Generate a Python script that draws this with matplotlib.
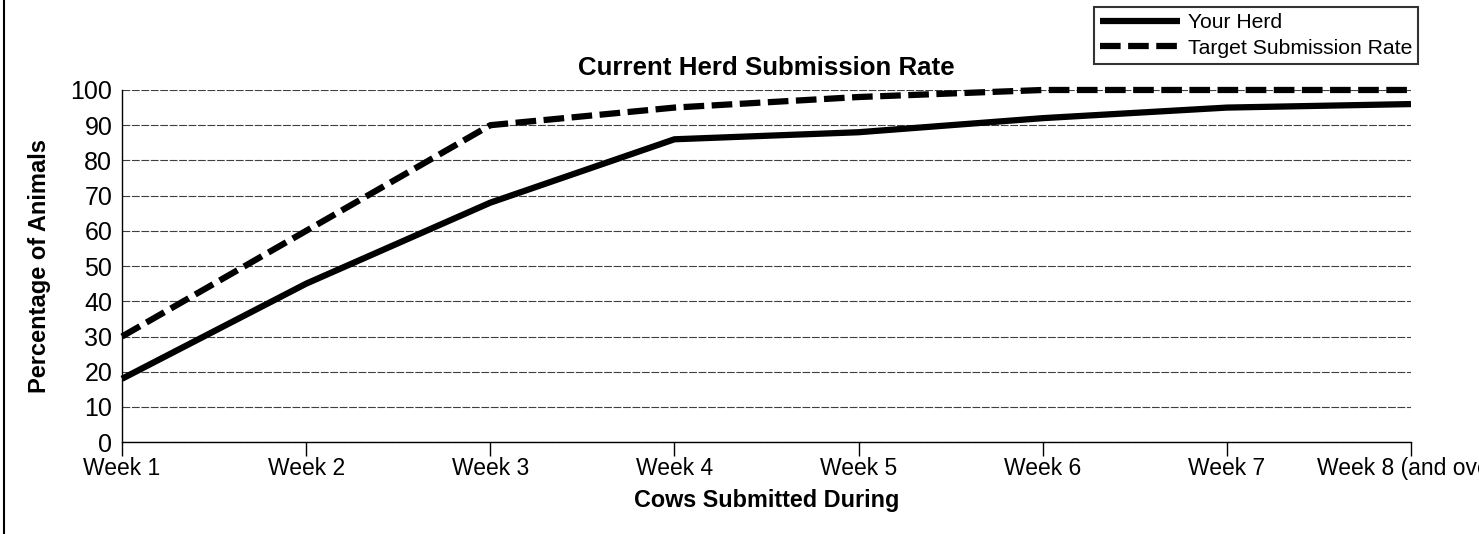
import matplotlib.pyplot as plt
from matplotlib.lines import Line2D

plt.rcParams['font.family'] = ['Liberation Sans', 'DejaVu Sans']

weeks = ["Week 1", "Week 2", "Week 3", "Week 4", "Week 5", "Week 6",
         "Week 7", "Week 8 (and over)"]
your_herd = [18, 45, 68, 86, 88, 92, 95, 96]
target_rate = [30, 60, 90, 95, 98, 100, 100, 100]

fig = plt.figure(figsize=(14.79, 5.34), dpi=100)
ax = fig.add_axes([0.0825, 0.172, 0.8715, 0.6595])

x = list(range(len(weeks)))
ax.plot(x, your_herd, color="black", lw=4.5, solid_capstyle="butt",
        label="Your Herd", clip_on=False, zorder=3)
ax.plot(x, target_rate, color="black", lw=4.5, dashes=(3.3, 1.2),
        dash_capstyle="butt", label="Target Submission Rate",
        clip_on=False, zorder=3)

ax.set_xlim(0, 7)
ax.set_ylim(0, 100)
ax.set_yticks(range(0, 101, 10))
ax.set_xticks(x)
ax.set_xticklabels(weeks)
ax.tick_params(axis="y", length=0, labelsize=18, pad=7)
ax.tick_params(axis="x", length=10, width=1, labelsize=16.5, pad=1)
ax.yaxis.grid(True, color="0.25", lw=0.8, dashes=(7, 1.5))
ax.set_axisbelow(True)

for side in ["top", "right"]:
    ax.spines[side].set_visible(False)
ax.spines["left"].set_linewidth(1)
ax.spines["bottom"].set_linewidth(1)

ax.set_title("Current Herd Submission Rate", fontsize=18.6, fontweight="bold",
             pad=11)
ax.set_xlabel("Cows Submitted During", fontsize=16.8, fontweight="bold",
              labelpad=6)
ax.set_ylabel("Percentage of Animals", fontsize=17, fontweight="bold",
              labelpad=14)

leg = fig.legend(loc="upper right", bbox_to_anchor=(0.959, 0.987),
                 fontsize=15.2, frameon=True, fancybox=False,
                 handlelength=3.8, handletextpad=0.35, borderpad=0.3,
                 labelspacing=0.3, borderaxespad=0)
leg.get_frame().set_edgecolor("black")
leg.get_frame().set_linewidth(1.5)

# left edge of the outer frame
fig.add_artist(Line2D([0.0025, 0.0025], [0, 1], color="black", lw=1.5,
                      transform=fig.transFigure))

fig.savefig("out.png", dpi=100)
